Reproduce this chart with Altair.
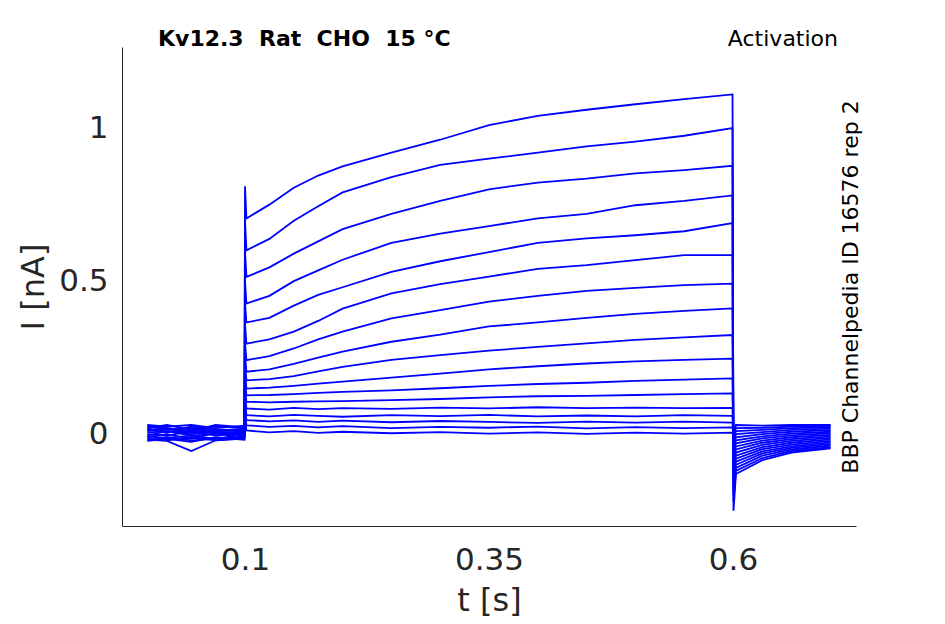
import altair as alt
import pandas as pd

# shared time points (s)
t_points = [0.0, 0.02, 0.045, 0.07, 0.0995, 0.1, 0.1015, 0.125, 0.15, 0.175, 0.2,
            0.25, 0.3, 0.35, 0.4, 0.45, 0.5, 0.55, 0.5995, 0.6005, 0.603, 0.63, 0.66, 0.7]

# currents (nA) for each voltage step
trace_01 = [0.010, 0.020, 0.005, 0.015, 0.012, 0.81, 0.705, 0.750, 0.805, 0.845, 0.875, 0.920, 0.962, 1.010, 1.040, 1.060, 1.078, 1.095, 1.110, -0.25, -0.130, -0.085, -0.060, -0.046]
trace_02 = [0.025, 0.015, 0.020, 0.010, 0.018, 0.70, 0.601, 0.638, 0.697, 0.745, 0.790, 0.840, 0.880, 0.900, 0.920, 0.940, 0.956, 0.975, 1.000, -0.22, -0.120, -0.078, -0.055, -0.042]
trace_03 = [-0.010, 0.000, -0.015, 0.005, -0.005, 0.60, 0.514, 0.545, 0.590, 0.630, 0.670, 0.720, 0.762, 0.800, 0.822, 0.835, 0.852, 0.863, 0.877, -0.20, -0.110, -0.070, -0.050, -0.037]
trace_04 = [0.030, 0.025, 0.030, 0.020, 0.028, 0.50, 0.427, 0.452, 0.500, 0.535, 0.570, 0.625, 0.655, 0.680, 0.705, 0.720, 0.748, 0.762, 0.780, -0.18, -0.100, -0.063, -0.045, -0.032]
trace_05 = [-0.020, -0.010, -0.020, -0.015, -0.010, 0.43, 0.365, 0.380, 0.420, 0.455, 0.480, 0.530, 0.565, 0.595, 0.625, 0.640, 0.650, 0.663, 0.690, -0.16, -0.090, -0.056, -0.040, -0.027]
trace_06 = [0.005, 0.010, 0.000, 0.008, 0.003, 0.36, 0.296, 0.310, 0.335, 0.370, 0.410, 0.460, 0.490, 0.515, 0.540, 0.552, 0.569, 0.585, 0.585, -0.14, -0.080, -0.049, -0.034, -0.022]
trace_07 = [0.020, 0.030, 0.015, 0.025, 0.020, 0.30, 0.242, 0.255, 0.280, 0.310, 0.335, 0.378, 0.405, 0.433, 0.452, 0.468, 0.478, 0.487, 0.492, -0.12, -0.070, -0.042, -0.028, -0.017]
trace_08 = [-0.015, -0.020, -0.010, -0.020, -0.012, 0.26, 0.204, 0.212, 0.230, 0.250, 0.270, 0.302, 0.325, 0.352, 0.365, 0.380, 0.393, 0.403, 0.411, -0.11, -0.060, -0.035, -0.022, -0.012]
trace_09 = [0.000, -0.005, 0.010, -0.005, 0.005, 0.23, 0.176, 0.180, 0.190, 0.205, 0.220, 0.243, 0.258, 0.273, 0.285, 0.297, 0.308, 0.316, 0.324, -0.10, -0.050, -0.028, -0.016, -0.007]
trace_10 = [0.015, 0.005, 0.025, 0.015, 0.010, 0.20, 0.149, 0.152, 0.158, 0.165, 0.172, 0.185, 0.198, 0.212, 0.222, 0.231, 0.238, 0.243, 0.247, -0.08, -0.040, -0.021, -0.010, -0.002]
trace_11 = [-0.005, 0.010, -0.005, 0.000, -0.008, 0.18, 0.127, 0.128, 0.131, 0.135, 0.138, 0.143, 0.150, 0.158, 0.164, 0.168, 0.174, 0.178, 0.182, -0.06, -0.030, -0.014, -0.004, 0.003]
trace_12 = [0.028, 0.020, 0.010, 0.030, 0.022, 0.15, 0.106, 0.104, 0.106, 0.107, 0.108, 0.111, 0.115, 0.120, 0.124, 0.125, 0.128, 0.131, 0.133, -0.05, -0.020, -0.007, 0.002, 0.008]
trace_13 = [-0.022, -0.015, -0.025, -0.010, -0.018, 0.13, 0.084, 0.080, 0.086, 0.082, 0.085, 0.083, 0.087, 0.084, 0.088, 0.085, 0.087, 0.085, 0.086, -0.04, -0.010, 0.000, 0.008, 0.013]
trace_14 = [0.012, 0.018, 0.008, 0.012, 0.015, 0.11, 0.062, 0.058, 0.063, 0.060, 0.057, 0.062, 0.059, 0.063, 0.058, 0.061, 0.058, 0.062, 0.060, -0.03, 0.000, 0.007, 0.014, 0.018]
trace_15 = [-0.008, -0.012, -0.005, -0.015, 0.000, 0.09, 0.046, 0.042, 0.045, 0.040, 0.044, 0.039, 0.043, 0.040, 0.037, 0.041, 0.038, 0.041, 0.038, -0.02, 0.010, 0.014, 0.020, 0.022]
trace_16 = [0.018, 0.008, 0.012, 0.005, 0.008, 0.07, 0.029, 0.024, 0.027, 0.022, 0.026, 0.020, 0.024, 0.021, 0.025, 0.019, 0.023, 0.020, 0.022, -0.01, 0.020, 0.021, 0.025, 0.026]
trace_17 = [-0.018, -0.022, -0.055, -0.020, -0.015, 0.05, 0.012, 0.006, 0.010, 0.004, 0.008, 0.003, 0.007, 0.002, 0.006, 0.001, 0.005, 0.002, 0.005, 0.00, 0.030, 0.028, 0.030, 0.030]

traces = [trace_01, trace_02, trace_03, trace_04, trace_05, trace_06, trace_07, trace_08, trace_09,
          trace_10, trace_11, trace_12, trace_13, trace_14, trace_15, trace_16, trace_17]

x_ticks = [0.1, 0.35, 0.6]
y_ticks = [0, 0.5, 1]

NB = "\u00a0"
title_left = f"Kv12.3{NB}{NB}Rat{NB}{NB}CHO{NB}{NB}15{NB}°C"
title_right = "Activation"
side_label = "BBP Channelpedia ID 16576 rep 2"

rows = []
for k, tr in enumerate(traces):
    for t, v in zip(t_points, tr):
        rows.append({"trace": k + 1, "t": t, "i": v})
df = pd.DataFrame(rows)

lines = alt.Chart(df).mark_line(color="#0000ff", strokeWidth=1.8, clip=True).encode(
    x=alt.X("t:Q", scale=alt.Scale(domain=[-0.026, 0.726], nice=False, zero=False),
            axis=alt.Axis(values=x_ticks, format=".2~f", title="t [s]", grid=False, ticks=False,
                          labelPadding=19, titlePadding=10)),
    y=alt.Y("i:Q", scale=alt.Scale(domain=[-0.3, 1.265], nice=False, zero=False),
            axis=alt.Axis(values=y_ticks, format=".2~f", title="I [nA]", grid=False, ticks=False,
                          labelPadding=14, titlePadding=8)),
    detail="trace:N",
    order="t:Q",
)

one = pd.DataFrame({"a": [0]})
txt_left = alt.Chart(one).mark_text(align="left", baseline="alphabetic", fontSize=22,
                                    fontWeight="bold", font="DejaVu Sans", color="black").encode(
    x=alt.value(36), y=alt.value(-1), text=alt.value(title_left))
txt_right = alt.Chart(one).mark_text(align="right", baseline="alphabetic", fontSize=22,
                                     font="DejaVu Sans", color="black").encode(
    x=alt.value(716), y=alt.value(-1), text=alt.value(title_right))
txt_side = alt.Chart(one).mark_text(align="center", baseline="alphabetic", fontSize=22, angle=270,
                                    font="DejaVu Sans", color="black").encode(
    x=alt.value(736), y=alt.value(240), text=alt.value(side_label))

chart = alt.layer(lines, txt_left, txt_right, txt_side).properties(
    width=734, height=479,
    padding={"left": 114, "top": 39, "right": 60, "bottom": 97},
    autosize=alt.AutoSizeParams(type="none"),
    background="white",
).configure_view(stroke=None).configure_axis(
    labelFont="DejaVu Sans", titleFont="DejaVu Sans",
    labelFontSize=31, titleFontSize=32, titleFontWeight="normal",
    labelColor="#262626", titleColor="#262626",
    domainColor="#262626", domainWidth=1,
)

chart.save("out.html", embed_options={"renderer": "svg", "actions": False})
